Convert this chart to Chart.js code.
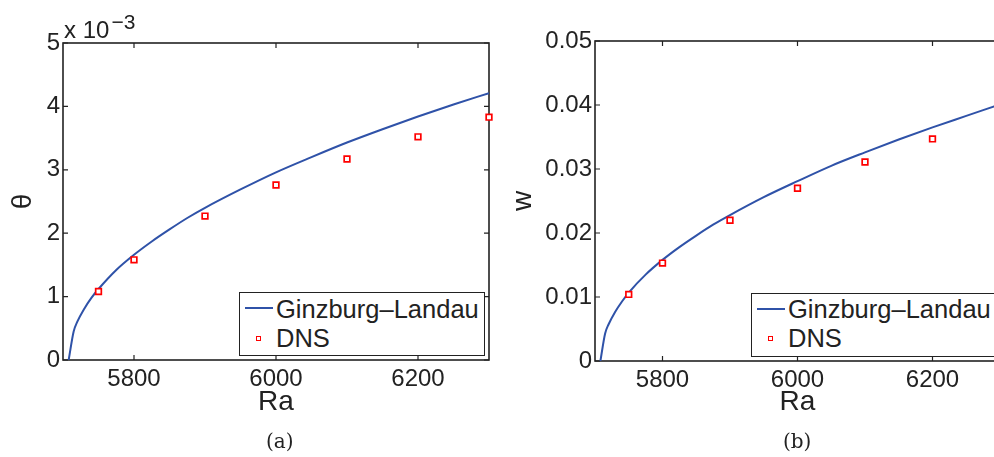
<!DOCTYPE html>
<html>
<head>
<meta charset="utf-8">
<script src="https://cdn.jsdelivr.net/npm/chart.js@4.4.1/dist/chart.umd.min.js"></script>
<style>
  html, body { margin: 0; padding: 0; background: #fff; }
  body { position: relative; width: 994px; height: 457px; overflow: hidden;
         font-family: 'Liberation Sans', Arial, sans-serif; color: #222; }
  .panel { position: absolute; top: 0; height: 457px; }
  #panelA { left: 0; width: 500px; }
  #panelB { left: 500px; width: 520px; }
  .legend { position: absolute; width: 246px; height: 64px; box-sizing: border-box;
            border: 1.5px solid #222; background: #fff; font-size: 25.5px; }
  .legend .swatch-line { position: absolute; left: 4.5px; top: 14px; width: 28px; height: 2px; background: #2f52a8; }
  .legend .swatch-box { position: absolute; left: 15.8px; top: 42.5px; width: 3px; height: 3px; border: 1.5px solid #f00; }
  .legend .lbl { position: absolute; left: 36px; line-height: 25px; white-space: nowrap; }
  .mult { position: absolute; left: 64px; top: 18px; font-size: 24px; line-height: 24px; white-space: nowrap; }
  .mult sup { font-size: 21px; vertical-align: baseline; position: relative; top: -9px; margin-left: 2px; }
  .cap { position: absolute; top: 431px; font-family: 'DejaVu Serif', 'Liberation Serif', serif;
         font-size: 20px; line-height: 20px; }
</style>
</head>
<body>
<div class="panel" id="panelA"><canvas id="chartA" width="500" height="457"></canvas></div>
<div class="panel" id="panelB"><canvas id="chartB" width="520" height="457"></canvas></div>

<div class="mult">x 10<sup>−3</sup></div>

<div class="legend" style="left:239px; top:292px;">
  <div class="swatch-line"></div><div class="lbl" style="top:3.5px;">Ginzburg–Landau</div>
  <div class="swatch-box"></div><div class="lbl" style="top:32.5px;">DNS</div>
</div>
<div class="legend" style="left:751px; top:292.5px;">
  <div class="swatch-line"></div><div class="lbl" style="top:3.5px;">Ginzburg–Landau</div>
  <div class="swatch-box"></div><div class="lbl" style="top:32.5px;">DNS</div>
</div>

<div class="cap" style="left:266px;">(a)</div>
<div class="cap" style="left:783px;">(b)</div>

<script>
// ---- data ----
const raCurve    = [5708, 5715, 5720, 5730, 5740, 5750, 5775, 5800, 5825, 5850, 5875, 5900, 5950, 6000, 6050, 6100, 6150, 6200, 6250, 6300];
const thetaCurve = [0, 0.45, 0.60, 0.81, 0.98, 1.12, 1.42, 1.66, 1.87, 2.06, 2.24, 2.40, 2.69, 2.96, 3.20, 3.43, 3.64, 3.84, 4.03, 4.21]; // x 10^-3
const wCurve     = [0, 0.0043, 0.0057, 0.0077, 0.0093, 0.0107, 0.0135, 0.0158, 0.0178, 0.0196, 0.0213, 0.0228, 0.0256, 0.0281, 0.0305, 0.0326, 0.0346, 0.0365, 0.0383, 0.0401];

const raDns    = [5750, 5800, 5900, 6000, 6100, 6200, 6300];
const thetaDns = [1.08, 1.58, 2.27, 2.76, 3.17, 3.52, 3.83]; // x 10^-3
const wDns     = [0.0104, 0.0153, 0.0220, 0.0270, 0.0311, 0.0347, 0.0378];

const raTicks    = [5800, 6000, 6200];
const thetaTicks = [0, 1, 2, 3, 4, 5];
const wTicks     = [0, 0.01, 0.02, 0.03, 0.04, 0.05];

const LINE_BLUE = '#2f52a8';
const DNS_RED = '#f00';
const AXIS = '#222';

Chart.defaults.font.family = "'Liberation Sans', Arial, sans-serif";
Chart.defaults.color = AXIS;

// MATLAB style box with inward ticks on all four sides
const boxPlugin = {
  id: 'matlabBox',
  beforeDatasetsDraw(chart) {
    const { ctx, chartArea: a, scales: { x, y } } = chart;
    ctx.save();
    ctx.strokeStyle = AXIS;
    ctx.lineWidth = 1.6;
    ctx.strokeRect(a.left, a.top, a.right - a.left, a.bottom - a.top);
    ctx.lineWidth = 1.2;
    ctx.beginPath();
    x.ticks.forEach(t => {
      const px = x.getPixelForValue(t.value);
      ctx.moveTo(px, a.bottom); ctx.lineTo(px, a.bottom - 5);
      ctx.moveTo(px, a.top); ctx.lineTo(px, a.top + 5);
    });
    y.ticks.forEach(t => {
      const py = y.getPixelForValue(t.value);
      ctx.moveTo(a.left, py); ctx.lineTo(a.left + 5, py);
      ctx.moveTo(a.right, py); ctx.lineTo(a.right - 5, py);
    });
    ctx.stroke();
    ctx.restore();
  }
};

const toXY = (xs, ys) => xs.map((v, i) => ({ x: v, y: ys[i] }));

function buildChart(id, opt) {
  return new Chart(document.getElementById(id), {
    type: 'scatter',
    data: {
      datasets: [
        {
          label: 'DNS',
          data: toXY(raDns, opt.dns),
          pointStyle: 'rect',
          pointRadius: 4,
          borderWidth: 1.7,
          borderColor: DNS_RED,
          backgroundColor: '#fff',
          clip: false
        },
        {
          label: 'Ginzburg–Landau',
          data: toXY(raCurve, opt.curve),
          showLine: true,
          pointRadius: 0,
          borderColor: LINE_BLUE,
          borderWidth: 2,
          cubicInterpolationMode: 'monotone'
        }
      ]
    },
    options: {
      responsive: false,
      animation: false,
      events: [],
      layout: { padding: { top: opt.top, right: opt.right, left: 0, bottom: 0 } },
      plugins: { legend: { display: false }, tooltip: { enabled: false } },
      scales: {
        x: {
          type: 'linear', min: 5700, max: 6300,
          afterBuildTicks: s => { s.ticks = raTicks.map(v => ({ value: v })); },
          afterFit: s => { s.height = opt.xHeight; },
          grid: { display: false, drawTicks: false },
          border: { display: false },
          ticks: { padding: 5, font: { size: 24 }, callback: v => String(v) },
          title: { display: true, text: 'Ra', font: { size: 28 }, padding: { top: 0, bottom: 38 } }
        },
        y: {
          type: 'linear', min: opt.yTicks[0], max: opt.yTicks[opt.yTicks.length - 1],
          afterBuildTicks: s => { s.ticks = opt.yTicks.map(v => ({ value: v })); },
          afterFit: s => { s.width = opt.yWidth; },
          grid: { display: false, drawTicks: false },
          border: { display: false },
          ticks: { padding: 3, font: { size: 24 }, callback: v => String(v) },
          title: { display: true, text: opt.yTitle, font: { size: 28 }, padding: { top: 6, bottom: 0 } }
        }
      }
    },
    plugins: [boxPlugin]
  });
}

buildChart('chartA', { curve: thetaCurve, dns: thetaDns, yTicks: thetaTicks, yTitle: 'θ',
                       top: 43, right: 11, xHeight: 97, yWidth: 63 });
buildChart('chartB', { curve: wCurve, dns: wDns, yTicks: wTicks, yTitle: 'w',
                       top: 41, right: 20, xHeight: 96, yWidth: 95 });
</script>
</body>
</html>
